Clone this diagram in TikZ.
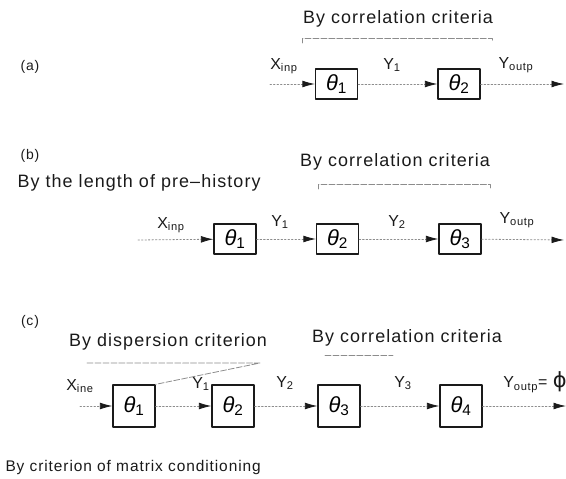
\documentclass[tikz,border=0pt]{standalone}
\usepackage{fontspec}
\setmainfont[LetterSpace=6]{Liberation Sans}
\newfontfamily\greekfont{Liberation Sans}
\newfontfamily\phifont{DejaVu Sans}
\usepackage{tikz}
\usetikzlibrary{arrows.meta,calc,positioning}
\definecolor{scanink}{HTML}{1A1A1A}
\definecolor{scanfade}{HTML}{8C8C8C}
\newcommand{\thetab}[1]{{\greekfont\itshape θ}\textsubscript{#1}}
\tikzset{
every picture/.style={line cap=round,line join=round},
block box/.style={
  draw=scanink,
  line width=1.3pt,
  minimum width=42bp,
  minimum height=30bp,
  inner sep=0pt,
  font=\fontsize{22}{24}\selectfont
},
square box/.style={block box, minimum height=42bp},
sig flow/.style={
  draw=scanfade,
  line width=0.8pt,
  dash pattern=on 1.5pt off 2pt,
  -{Latex[length=4.4mm,width=2.4mm,color=scanink]}
},
crit bracket/.style={draw=scanfade, line width=0.8pt, dash pattern=on 6pt off 2pt},
crit label/.style={font=\fontsize{18}{21}\selectfont, text=scanink},
note label/.style={font=\fontsize{15.5}{18}\selectfont, text=scanink},
sig label/.style={font=\fontsize{16}{19}\selectfont, text=scanink, inner sep=1pt},
tag label/.style={font=\fontsize{14}{17}\selectfont, text=scanink}
}
\begin{document}
\begin{tikzpicture}[x=1bp,y=-1bp]
\useasboundingbox (0,0) rectangle (566,479);
% (a)
\node[tag label] (tagA) at (30,67) {(a)};
\node[crit label] (corrA) at (398,19) {By correlation criteria};
\draw[crit bracket] (302,43) -- (302,38) -- (492,38) -- (492,42);
\node[block box] (a1) at (336.5,84) {\thetab{1}};
\node[block box] (a2) at (459,84) {\thetab{2}};
\node[sig label] (xinA) at (284,66) {X\textsubscript{inp}};
\node[sig label] (y1A) at (392,65) {Y\textsubscript{1}};
\node[sig label] (youtA) at (516,65) {Y\textsubscript{outp}};
\coordinate (inA) at (270,84);
\coordinate (outA) at (564,84);
\draw[sig flow] (inA) -- (a1);
\draw[sig flow] (a1) -- (a2);
\draw[sig flow] (a2) -- (outA);
% (b)
\node[tag label] (tagB) at (30,156) {(b)};
\node[crit label] (corrB) at (395,162) {By correlation criteria};
\draw[crit bracket] (318,189) -- (318,184) -- (490,184) -- (490,188);
\node[crit label,anchor=west] (histB) at (14,183) {By the length of pre--history};
\node[block box] (b1) at (235,239) {\thetab{1}};
\node[block box] (b2) at (337.5,239) {\thetab{2}};
\node[block box] (b3) at (460,239) {\thetab{3}};
\node[sig label] (xinB) at (171,225) {X\textsubscript{inp}};
\node[sig label] (y1B) at (280,222) {Y\textsubscript{1}};
\node[sig label] (y2B) at (397,222) {Y\textsubscript{2}};
\node[sig label] (youtB) at (517,220) {Y\textsubscript{outp}};
\coordinate (inB) at (138,240);
\coordinate (outB) at (564,240);
\draw[sig flow] (inB) -- (b1);
\draw[sig flow] (b1) -- (b2);
\draw[sig flow] (b2) -- (b3);
\draw[sig flow] (b3) -- (outB);
% (c)
\node[tag label] (tagC) at (30,322) {(c)};
\node[crit label] (dispC) at (168,342) {By dispersion criterion};
\node[crit label] (corrC) at (407,338) {By correlation criteria};
\draw[crit bracket] (325,355) -- (393,355);
\node[square box] (c1) at (134,406) {\thetab{1}};
\node[square box] (c2) at (233,406) {\thetab{2}};
\node[square box] (c3) at (339,406) {\thetab{3}};
\node[square box] (c4) at (461,406) {\thetab{4}};
\coordinate (dispEnd) at (260,363);
\draw[crit bracket] (87,363) -- (dispEnd) -- (c1.north east);
\node[sig label] (xinC) at (80,386) {X\textsubscript{ine}};
\node[sig label] (y1C) at (201,384) {Y\textsubscript{1}};
\node[sig label] (y2C) at (285,383) {Y\textsubscript{2}};
\node[sig label] (y3C) at (403,383) {Y\textsubscript{3}};
\node[sig label] (youtC) at (535,382) {Y\textsubscript{outp}= {\phifont\fontsize{21}{24}\selectfont ϕ}};
\coordinate (inC) at (80,406);
\coordinate (outC) at (566,406);
\draw[sig flow] (inC) -- (c1);
\draw[sig flow] (c1) -- (c2);
\draw[sig flow] (c2) -- (c3);
\draw[sig flow] (c3) -- (c4);
\draw[sig flow] (c4) -- (outC);
\node[note label,anchor=west] (condC) at (2,468) {By criterion of matrix conditioning};
\end{tikzpicture}
\end{document}
